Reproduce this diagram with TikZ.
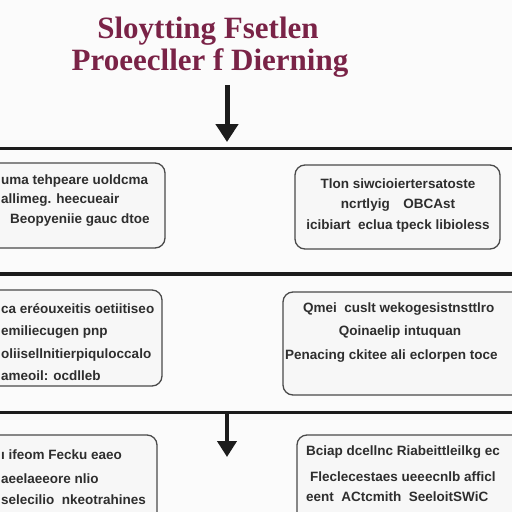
\documentclass[tikz,border=0pt]{standalone}
\usepackage{fontspec}
\setmainfont{Liberation Serif}
\setsansfont{Liberation Sans}
\usetikzlibrary{arrows.meta}
\definecolor{titlec}{HTML}{7A2347}
\definecolor{boxline}{HTML}{4A4A4A}
\definecolor{boxfill}{HTML}{F7F7F7}
\definecolor{txt}{HTML}{2E2E2E}
\definecolor{bar}{HTML}{1C1C1C}
\definecolor{bg}{HTML}{FBFBFB}
\tikzset{
  titletext/.style={font=\fontsize{31}{34}\selectfont\bfseries, text=titlec, inner sep=0pt},
  panel/.style={draw=boxline, line width=1.3pt, fill=boxfill, rounded corners=10pt},
  ltext/.style={font=\sffamily\bfseries\fontsize{13.5}{15}\selectfont, text=txt, inner sep=0pt, anchor=west},
  ctext/.style={font=\sffamily\bfseries\fontsize{13.5}{15}\selectfont, text=txt, inner sep=0pt},
  divider/.style={draw=bar, line width=3pt},
  flowarrow/.style={draw=bar, line width=5pt, -{Triangle[width=22pt,length=18pt]}}
}
\begin{document}
\begin{tikzpicture}[x=1pt,y=-1pt]
\useasboundingbox (0,0) rectangle (512,512);
\fill[bg] (0,0) rectangle (512,512);

% title
\node[titletext] (title1) at (208,31) {Sloytting Fsetlen};
\node[titletext] (title2) at (210,63) {Proeecller f Dierning};

% dividers
\coordinate (d1l) at (-5,148); \coordinate (d1r) at (517,148);
\coordinate (d2l) at (-5,274); \coordinate (d2r) at (517,274);
\coordinate (d3l) at (-5,412); \coordinate (d3r) at (517,412);
\draw[divider] (d1l) -- (d1r);
\draw[divider, line width=4pt] (d2l) -- (d2r);
\draw[divider] (d3l) -- (d3r);

% arrows
\coordinate (a1s) at (227,85); \coordinate (a1e) at (227,142);
\coordinate (a2s) at (227,412); \coordinate (a2e) at (227,457);
\draw[flowarrow] (a1s) -- (a1e);
\draw[flowarrow, line width=4.5pt, -{Triangle[width=19pt,length=16pt]}] (a2s) -- (a2e);

% boxes
\draw[panel] (-10,163) rectangle (165,248);
\draw[panel] (295,165) rectangle (500,249);
\draw[panel] (-10,290) rectangle (162,386);
\draw[panel] (283,292) rectangle (525,395);
\draw[panel] (-10,435) rectangle (157,530);
\draw[panel] (297,435) rectangle (525,530);

% box 1 text
\node[ltext] (b1l1) at (1,181) {uma tehpeare uoldcma};
\node[ltext] (b1l2) at (1,200) {allimeg. heecueair};
\node[ltext] (b1l3) at (10,220) {Beopyeniie gauc dtoe};

% box 2 text
\node[ctext] (b2l1) at (398,184) {Tlon siwcioiertersatoste};
\node[ctext] (b2l2) at (398,205) {ncrtlyig\quad OBCAst};
\node[ctext] (b2l3) at (398,226) {icibiart\ \ eclua tpeck libioless};

% box 3 text
\node[ltext] (b3l1) at (1,309) {ca eréouxeitis oetiitiseo};
\node[ltext] (b3l2) at (1,332) {emiliecugen pnp};
\node[ltext] (b3l3) at (1,355) {oliisellnitierpiquloccalo};
\node[ltext] (b3l4) at (1,376) {ameoil: ocdlleb};

% box 4 text
\node[ltext] (b4l1) at (303,309) {Qmei\ \ cuslt wekogesistnsttlro};
\node[ctext] (b4l2) at (400,332) {Qoinaelip intuquan};
\node[ltext] (b4l3) at (285,356) {Penacing ckitee ali eclorpen toce};

% box 5 text
\node[ltext] (b5l1) at (1,455) {ı ifeom Fecku eaeo};
\node[ltext] (b5l2) at (1,479) {aeelaeeore nlio};
\node[ltext] (b5l3) at (1,500) {selecilio\ \ nkeotrahines};

% box 6 text
\node[ltext] (b6l1) at (306,452) {Bciap dcellnc Riabeittleilkg ec};
\node[ltext] (b6l2) at (310,477) {Fleclecestaes ueeecnlb afficl};
\node[ltext] (b6l3) at (306,497) {eent\ \ ACtcmith\ \ SeeloitSWiC};
\end{tikzpicture}
\end{document}
